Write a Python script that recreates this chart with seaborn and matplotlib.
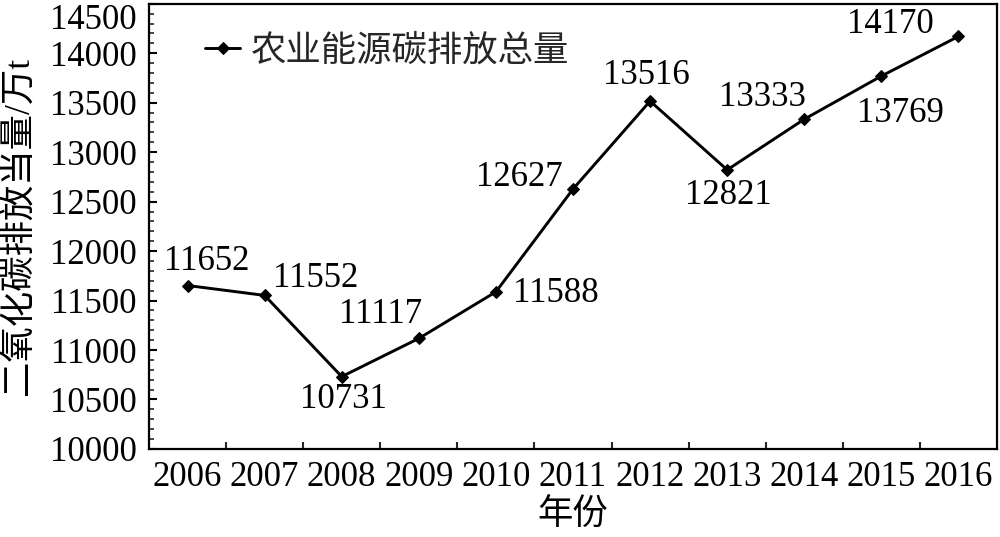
import matplotlib
matplotlib.use("Agg")
import matplotlib.pyplot as plt
from matplotlib.ticker import MultipleLocator, FixedLocator
import seaborn as sns
import pandas as pd

# données
years = ["2006", "2007", "2008", "2009", "2010", "2011",
         "2012", "2013", "2014", "2015", "2016"]
emissions = [11652, 11552, 10731, 11117, 11588, 12627,
             13516, 12821, 13333, 13769, 14170]
series_name = "农业能源碳排放总量"
x_title = "年份"
y_title = "二氧化碳排放当量/万t"

# décalages des étiquettes (pixels)
label_offsets = [(19, 24), (51, 17), (2, -23), (-38, 24), (60, -2), (-54, 12),
                 (-4, 26), (1, -26), (-42, 22), (19, -37), (-68, 12)]

sns.set_theme(style="white")
plt.rcParams['font.family'] = ['Liberation Serif', 'Noto Sans CJK SC', 'DejaVu Sans']
plt.rcParams['axes.unicode_minus'] = False

df = pd.DataFrame({"year": years, "value": emissions})

fig = plt.figure(figsize=(10, 5.37), dpi=100)
ax = fig.add_axes([0.149, 0.164, 0.848, 0.829])

sns.lineplot(data=df, x="year", y="value", ax=ax, color="black",
             linewidth=2.1, marker="D", markersize=6.5,
             markeredgecolor="black", label=series_name)

for i, (v, off) in enumerate(zip(emissions, label_offsets)):
    ax.annotate(str(v), xy=(i, v), xytext=off, textcoords="offset pixels",
                ha="center", va="center", fontsize=25, color="black")

ax.set_xlim(-0.5, 10.5)
ax.set_ylim(10000, 14500)
ax.yaxis.set_major_locator(FixedLocator(list(range(10000, 14501, 500))))
ax.yaxis.set_minor_locator(MultipleLocator(100))
ax.xaxis.set_minor_locator(FixedLocator([i + 0.5 for i in range(len(years) - 1)]))

ax.tick_params(axis="x", which="major", length=0, pad=9, labelsize=25, colors="black")
ax.tick_params(axis="x", which="minor", direction="in", length=5, width=1.5, bottom=True)
ax.tick_params(axis="y", which="major", direction="in", length=6, width=1.5,
               pad=9, labelsize=25, colors="black", left=True)
ax.tick_params(axis="y", which="minor", direction="in", length=3.5, width=1.2, left=True)

# le dernier libellé (14500) descend un peu pour rester dans l'image
ax.yaxis.get_major_ticks()[-1].label1.set_verticalalignment("top")

for s in ax.spines.values():
    s.set_color("black")
    s.set_linewidth(1.6)

ax.set_xlabel(x_title, fontsize=25.5, labelpad=4, color="black")
ax.set_ylabel(y_title, fontsize=25.5, labelpad=10, color="black")

leg = ax.legend(loc="center left", bbox_to_anchor=(0.066, 0.892), frameon=False,
                fontsize=25.5, handlelength=1.0, handletextpad=0.3,
                borderpad=0, borderaxespad=0)

fig.savefig("out.png", dpi=100, facecolor="white")
